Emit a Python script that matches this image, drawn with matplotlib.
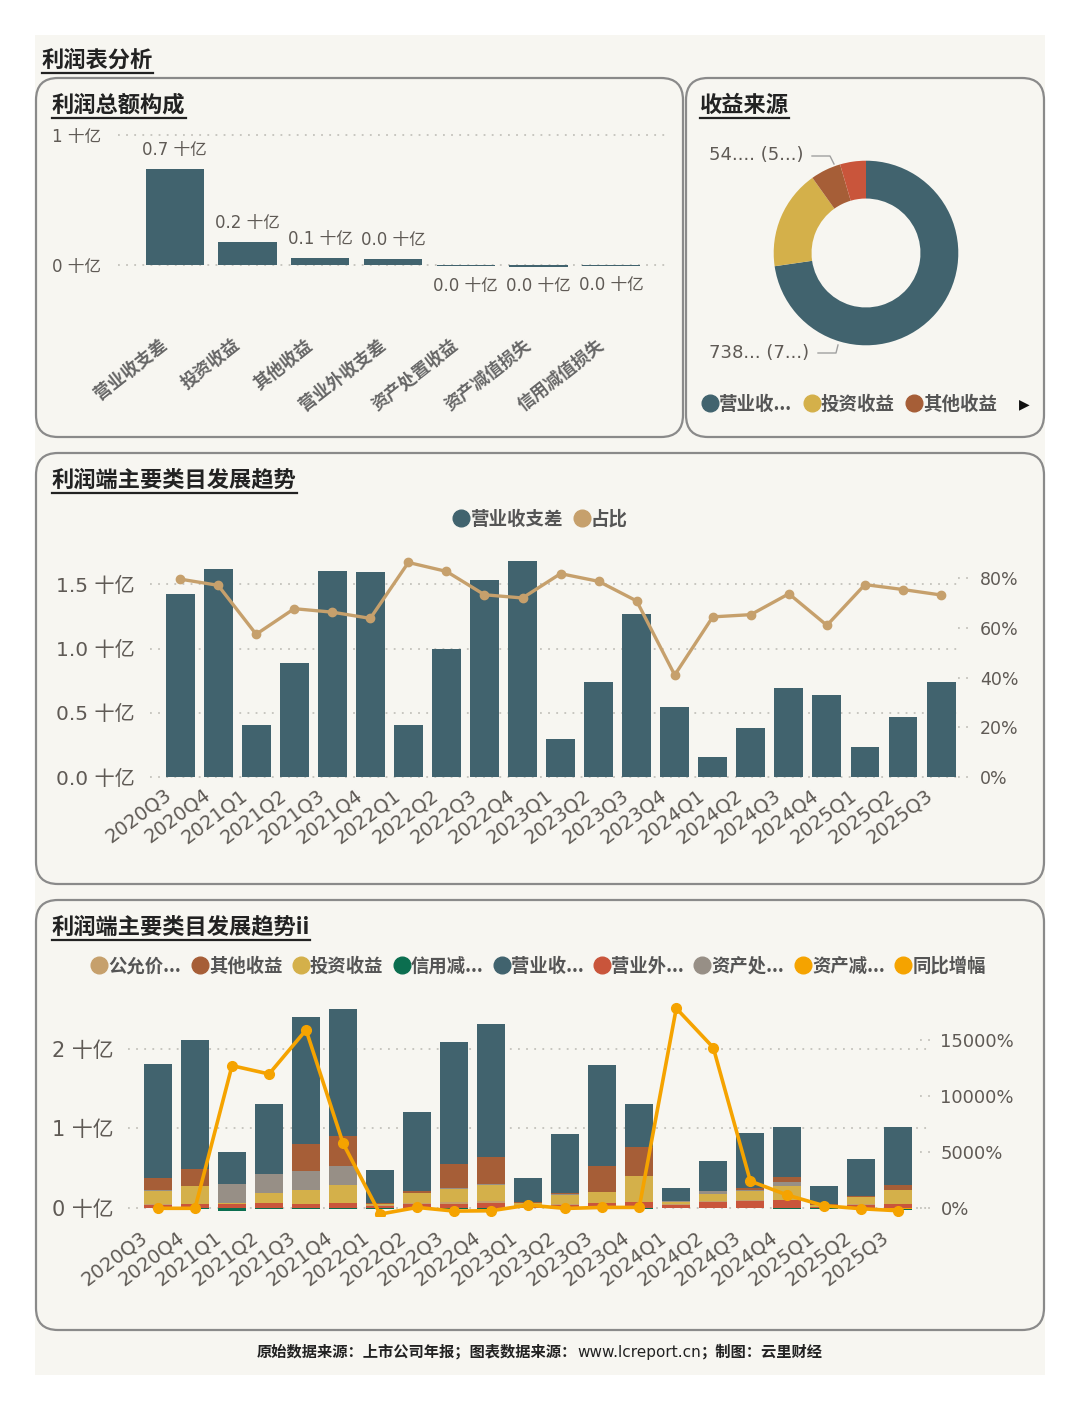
import matplotlib
matplotlib.use('Agg')
import matplotlib.pyplot as plt
from matplotlib.patches import FancyBboxPatch, Rectangle
from matplotlib.lines import Line2D
from matplotlib.transforms import ScaledTranslation

plt.rcParams['font.family'] = ['DejaVu Sans', 'Noto Sans CJK SC']
plt.rcParams['axes.unicode_minus'] = False

# ---- data (十亿) ----
quarters = ['2020Q3', '2020Q4', '2021Q1', '2021Q2', '2021Q3', '2021Q4', '2022Q1',
            '2022Q2', '2022Q3', '2022Q4', '2023Q1', '2023Q2', '2023Q3', '2023Q4',
            '2024Q1', '2024Q2', '2024Q3', '2024Q4', '2025Q1', '2025Q2', '2025Q3']
op_diff = [1.424, 1.620, 0.409, 0.885, 1.602, 1.596, 0.409, 0.997, 1.531, 1.680, 0.297,
           0.740, 1.268, 0.544, 0.156, 0.383, 0.690, 0.635, 0.232, 0.469, 0.738]
op_share = [79.7, 77.2, 57.5, 67.8, 66.4, 63.9, 86.4, 82.8, 73.4, 72.1, 81.9,
            78.8, 70.9, 41.1, 64.5, 65.4, 73.8, 61.1, 77.5, 75.5, 73.3]
invest = [0.159, 0.222, 0.017, 0.130, 0.172, 0.222, 0.015, 0.126, 0.164, 0.201, 0.020,
          0.113, 0.134, 0.323, 0.020, 0.084, 0.113, 0.180, 0.020, 0.092, 0.177]
other_inc = [0.151, 0.218, 0.000, 0.000, 0.344, 0.377, 0.015, 0.025, 0.294, 0.331, 0.010,
             0.020, 0.323, 0.356, 0.005, 0.005, 0.030, 0.063, 0.005, 0.010, 0.054]
non_op = [0.038, 0.050, 0.045, 0.059, 0.042, 0.055, 0.020, 0.050, 0.050, 0.060, 0.020,
          0.040, 0.060, 0.071, 0.030, 0.071, 0.085, 0.092, 0.008, 0.040, 0.046]
asset_disp = [0.020, 0.000, 0.231, 0.231, 0.239, 0.239, 0.005, 0.005, 0.020, 0.020, 0.005,
              0.005, 0.005, 0.005, 0.015, 0.030, 0.010, 0.046, 0.005, 0.003, -0.010]
fair_val = [0.010, 0.000, 0.000, 0.000, 0.005, 0.005, 0.010, 0.005, 0.020, 0.020, 0.020,
            0.010, 0.005, 0.005, 0.020, 0.020, 0.010, 0.005, 0.005, 0.005, 0.005]
asset_impair = [0.000, 0.000, 0.000, 0.000, 0.000, 0.000, -0.005, 0.000, 0.000, 0.000, 0.000,
                0.000, 0.000, 0.000, 0.000, 0.000, 0.000, -0.005, 0.000, 0.000, -0.012]
credit_impair = [-0.005, -0.010, -0.040, -0.012, -0.010, -0.010, -0.005, -0.005, -0.010, -0.010,
                 -0.003, -0.005, -0.005, -0.010, -0.002, -0.003, -0.005, -0.010, -0.010, -0.005, -0.008]
yoy = [-50, -50, 12728, 11981, 15925, 5766, -568, 30, -299, -269, 239,
       -60, 30, 30, 17867, 14341, 2390, 1135, 179, -90, -269]

comp_names = ['营业收支差', '投资收益', '其他收益', '营业外收支差', '资产处置收益', '资产减值损失', '信用减值损失']
comp_vals = [op_diff[-1], invest[-1], other_inc[-1], non_op[-1], asset_disp[-1], asset_impair[-1], credit_impair[-1]]
pie_names = ['营业收...', '投资收益', '其他收益']
legend_names = ['公允价...', '其他收益', '投资收益', '信用减...', '营业收...', '营业外...', '资产处...', '资产减...', '同比增幅']

TEAL = '#41636e'
YELLOW = '#d4b04a'
BROWN = '#a65e37'
RED = '#c9553b'
GREY = '#978f86'
GREEN = '#0b6e4f'
ORANGE = '#f5a300'
TAN = '#c6a06c'
BG = '#f7f6f1'
TXT = '#5f5a55'
W, H = 1080, 1410

fig = plt.figure(figsize=(W / 100, H / 100), dpi=100)
fig.patch.set_facecolor('white')
bg = fig.add_axes([0, 0, 1, 1])
bg.set_xlim(0, W)
bg.set_ylim(H, 0)
bg.axis('off')
bg.add_patch(Rectangle((35, 35), 1010, 1340, color=BG, lw=0))
for x, y, w, h in [(36, 78, 647, 359), (686, 78, 358, 359), (36, 453, 1008, 431), (36, 900, 1008, 430)]:
    bg.add_patch(FancyBboxPatch((x, y), w, h, boxstyle='round,pad=0,rounding_size=22',
                                fc=BG, ec='#8a8a8a', lw=1.6))
rend = fig.canvas.get_renderer()


def px_axes(x0, y0, x1, y1):
    a = fig.add_axes([x0 / W, 1 - y1 / H, (x1 - x0) / W, (y1 - y0) / H])
    a.patch.set_alpha(0)
    for s in a.spines.values():
        s.set_visible(False)
    return a


def title(x, y, s, size=16):
    t = bg.text(x, y, s, fontsize=size, fontweight='bold', color='#222222', ha='left', va='center',
                family=['Noto Sans CJK SC', 'DejaVu Sans'])
    bb = t.get_window_extent(renderer=rend)
    yb = H - bb.y0 + 1
    bg.plot([bb.x0, bb.x1], [yb, yb], color='#222222', lw=1.6)


def dotted_grid(a):
    a.grid(axis='y', color='#c4c2bc', ls=(0, (1, 3.5)), lw=1.3)
    a.set_axisbelow(True)


def shift_xlabels(a, dx, dy):
    off = ScaledTranslation(dx / 100, dy / 100, fig.dpi_scale_trans)
    for lbl in a.get_xticklabels():
        lbl.set_transform(lbl.get_transform() + off)


title(42, 60, '利润表分析')
title(52, 105, '利润总额构成')
title(700, 105, '收益来源')
title(52, 480, '利润端主要类目发展趋势')
title(52, 927, '利润端主要类目发展趋势ii')

# ---- panel 1: composition bars ----
ax1 = px_axes(118, 128.5, 668, 284.5)
xs = list(range(len(comp_names)))
ax1.bar(xs, comp_vals, width=0.8, color=TEAL, zorder=2)
ax1.set_xlim(-0.78, 6.78)
ax1.set_ylim(-0.15, 1.05)
ax1.set_yticks([0, 1])
ax1.set_yticklabels(['0 十亿', '1 十亿'])
ax1.tick_params(axis='y', length=0, labelsize=12, labelcolor=TXT, pad=12)
ax1.set_xticks(xs)
ax1.set_xticklabels(comp_names, rotation=38, ha='right', rotation_mode='anchor',
                    fontweight='bold', family=['Noto Sans CJK SC'])
ax1.tick_params(axis='x', length=0, labelsize=12.5, labelcolor='#666666', pad=50)
shift_xlabels(ax1, -15, 18)
dotted_grid(ax1)
for i, v in enumerate(comp_vals):
    off = 14 if v >= 0 else -14
    ax1.annotate(f'{abs(v):.1f} 十亿', (i, v), xytext=(0, off), textcoords='offset points',
                 ha='center', va='center', fontsize=12, color=TXT)

# ---- panel 2: donut ----
ax2 = px_axes(746, 133, 986, 373)
pie_vals = [v for v in comp_vals if v > 0]
pie_cols = [TEAL, YELLOW, BROWN, RED][:len(pie_vals)]
ax2.pie(pie_vals, colors=pie_cols, startangle=90, counterclock=False, radius=1.0,
        wedgeprops=dict(width=0.41, edgecolor='none'))
ax2.set_xlim(-1.3, 1.3)
ax2.set_ylim(-1.3, 1.3)
ax2.set_aspect('equal')
bg.text(709, 155, '54.... (5...)', fontsize=13, color=TXT, ha='left', va='center')
bg.plot([812, 830, 834], [156, 156, 164], color='#a0a0a0', lw=1)
bg.text(709, 353, '738... (7...)', fontsize=13, color=TXT, ha='left', va='center')
bg.plot([818, 836, 838], [353, 353, 345], color='#a0a0a0', lw=1)
h2 = [Line2D([], [], ls='none', marker='o', ms=12, color=c) for c in pie_cols[:3]]
leg2 = fig.legend(h2, pie_names, loc='center left', bbox_to_anchor=(684 / W, 1 - 404 / H), ncol=3,
                  frameon=False, handletextpad=0.0, columnspacing=0.55, handlelength=1.0,
                  prop=dict(size=13.3, weight='bold', family=['Noto Sans CJK SC']))
for t in leg2.get_texts():
    t.set_color('#555555')
bg.text(1024, 404, '▶', fontsize=10, color='#111111', ha='center', va='center')

# ---- panel 3: operating diff trend ----
ax3 = px_axes(150, 556, 962, 781)
qx = list(range(len(quarters)))
ax3.bar(qx, op_diff, width=0.76, color=TEAL, zorder=2)
ax3.set_xlim(-0.79, 20.55)
ax3.set_ylim(-0.03, 1.72)
ax3.set_yticks([0, 0.5, 1.0, 1.5])
ax3.set_yticklabels([f'{v:.1f} 十亿' for v in [0, 0.5, 1.0, 1.5]])
ax3.tick_params(axis='y', length=0, labelsize=14.5, labelcolor=TXT, pad=11)
ax3.set_xticks(qx)
ax3.set_xticklabels(quarters, rotation=37, ha='right', rotation_mode='anchor')
ax3.tick_params(axis='x', length=0, labelsize=14, labelcolor=TXT, pad=3)
shift_xlabels(ax3, -16, 0)
dotted_grid(ax3)
ax3b = ax3.twinx()
for s in ax3b.spines.values():
    s.set_visible(False)
ax3b.plot(qx, op_share, color=TAN, lw=2.4, marker='o', ms=6, zorder=3)
ax3b.set_ylim(-1.55, 89.0)
ax3b.set_yticks([0, 20, 40, 60, 80])
ax3b.set_yticklabels([f'{v}%' for v in [0, 20, 40, 60, 80]])
ax3b.tick_params(axis='y', length=0, labelsize=12.5, labelcolor=TXT, pad=13)
for v in [0, 20, 40, 60, 80]:
    ax3b.plot([0.995, 1.012], [v, v], transform=ax3b.get_yaxis_transform(), ls=(0, (1, 3.5)),
              color='#c4c2bc', lw=1.3, clip_on=False)
h3 = [Line2D([], [], ls='none', marker='o', ms=12, color=c) for c in [TEAL, TAN]]
leg3 = fig.legend(h3, ['营业收支差', '占比'], loc='center', bbox_to_anchor=(540 / W, 1 - 519 / H), ncol=2,
                  frameon=False, handletextpad=0.0, columnspacing=0.5, handlelength=1.0,
                  prop=dict(size=13.3, weight='bold', family=['Noto Sans CJK SC']))
for t in leg3.get_texts():
    t.set_color('#555555')

# ---- panel 4: stacked categories ----
ax4 = px_axes(128, 997, 928, 1215.7)
stack = [(non_op, RED), (asset_impair, ORANGE), (fair_val, TAN), (invest, YELLOW),
         (asset_disp, GREY), (other_inc, BROWN), (op_diff, TEAL), (credit_impair, GREEN)]
pos = [0.0] * len(quarters)
neg = [0.0] * len(quarters)
for vals, col in stack:
    bottoms = [pos[i] if v >= 0 else neg[i] for i, v in enumerate(vals)]
    ax4.bar(qx, vals, bottom=bottoms, width=0.76, color=col, zorder=2)
    for i, v in enumerate(vals):
        if v >= 0:
            pos[i] += v
        else:
            neg[i] += v
ax4.set_xlim(-0.81, 20.8)
ax4.set_ylim(-0.1, 2.65)
ax4.set_yticks([0, 1, 2])
ax4.set_yticklabels([f'{v} 十亿' for v in [0, 1, 2]])
ax4.tick_params(axis='y', length=0, labelsize=15, labelcolor=TXT, pad=10)
ax4.set_xticks(qx)
ax4.set_xticklabels(quarters, rotation=37, ha='right', rotation_mode='anchor')
ax4.tick_params(axis='x', length=0, labelsize=14, labelcolor=TXT, pad=3)
shift_xlabels(ax4, -18, -8)
dotted_grid(ax4)
ax4b = ax4.twinx()
for s in ax4b.spines.values():
    s.set_visible(False)
ax4b.plot(qx, yoy, color=ORANGE, lw=2.6, marker='o', ms=7, zorder=3)
ax4b.set_ylim(-712, 18878)
ax4b.set_yticks([0, 5000, 10000, 15000])
ax4b.set_yticklabels([f'{v}%' for v in [0, 5000, 10000, 15000]])
ax4b.tick_params(axis='y', length=0, labelsize=13, labelcolor=TXT, pad=9)
for v in [0, 5000, 10000, 15000]:
    ax4b.plot([0.99, 1.004], [v, v], transform=ax4b.get_yaxis_transform(), ls=(0, (1, 3.5)),
              color='#c4c2bc', lw=1.3, clip_on=False)
leg_cols = [TAN, BROWN, YELLOW, GREEN, TEAL, RED, GREY, ORANGE, ORANGE]
h4 = [Line2D([], [], ls='none', marker='o', ms=12, color=c) for c in leg_cols]
leg4 = fig.legend(h4, legend_names, loc='center', bbox_to_anchor=(538 / W, 1 - 966 / H), ncol=9,
                  frameon=False, handletextpad=0.0, columnspacing=0.5, handlelength=1.0,
                  prop=dict(size=13.2, weight='bold', family=['Noto Sans CJK SC']))
for t in leg4.get_texts():
    t.set_color('#555555')

# ---- footer ----
parts = [('原始数据来源：上市公司年报；图表数据来源：', 'bold'), ('www.lcreport.cn', 'normal'),
         ('；制图：云里财经', 'bold')]
texts, widths = [], []
for s, wt in parts:
    t = bg.text(0, 1352, s, fontsize=11, fontweight=wt, color='#222222', ha='left', va='center',
                family=['Noto Sans CJK SC', 'DejaVu Sans'] if wt == 'bold' else ['DejaVu Sans'])
    texts.append(t)
    widths.append(t.get_window_extent(renderer=rend).width)
cx = 540 - sum(widths) / 2
for t, wd in zip(texts, widths):
    t.set_x(cx)
    cx += wd

fig.savefig('out.png', dpi=100, facecolor='white')
